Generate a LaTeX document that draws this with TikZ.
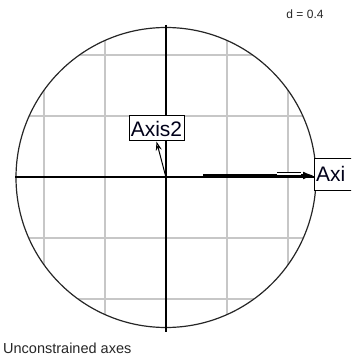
\documentclass[tikz,border=0pt]{standalone}
\usepackage{fontspec}
\setmainfont{Liberation Sans}
\usetikzlibrary{arrows.meta}
\begin{document}
\begin{tikzpicture}[x=1pt,y=-1pt,
  gridline/.style={draw=black!22, line width=1.3pt},
  axisline/.style={draw=black, line width=1.2pt},
  circline/.style={draw=black!85, line width=1.2pt},
  axbox/.style={draw=black, line width=1pt, fill=white, inner sep=0pt, font=\fontsize{21}{21}\selectfont, text=black!90!blue},
  smalltext/.style={inner sep=0pt, text=black!85}]
\useasboundingbox (0,0) rectangle (351,358);
\clip (0,0) rectangle (351,358);
\coordinate (O) at (166,177.5);
\begin{scope}
  \clip (O) circle (150pt);
  \foreach \i in {-2,...,2} {
    \draw[gridline] (166+61*\i,20) -- (166+61*\i,340);
    \draw[gridline] (10,177+61*\i) -- (330,177+61*\i);
  }
\end{scope}
\draw[circline] (O) circle (150pt);
\coordinate (hl) at (15,177);
\coordinate (hr) at (316,177);
\coordinate (vt) at (166,25);
\coordinate (vb) at (166,332);
\draw[axisline] (hl) -- (hr);
\draw[axisline] (vt) -- (vb);
% Axis2 box and its arrow
\node[axbox, minimum width=55pt, minimum height=25pt] (a2) at (156.5,128.5) {Axis2};
\draw[line width=1pt, -{Stealth[open, length=9pt, width=6pt]}] (O) -- (a2.south);
% Axis1 box (cut off at the right edge) and its arrow
\node[axbox, anchor=west, minimum height=32pt, text width=50pt, align=left, inner xsep=1.5pt] (a1) at (314,174) {Axi};
\coordinate (a1s) at (203,175.5);
\draw[line width=2.5pt, -{Latex[length=11pt, width=8pt]}] (a1s) -- (a1.west |- a1s);
\draw[black, line width=1.1pt, double=white, double distance=2.6pt] (277,174) -- (301,174);
% texts
\node[smalltext, font=\fontsize{12}{12}\selectfont] (d) at (305,14) {d = 0.4};
\node[smalltext, anchor=west, font=\fontsize{14.5}{14.5}\selectfont] (cap) at (3,348) {Unconstrained axes};
\end{tikzpicture}
\end{document}
